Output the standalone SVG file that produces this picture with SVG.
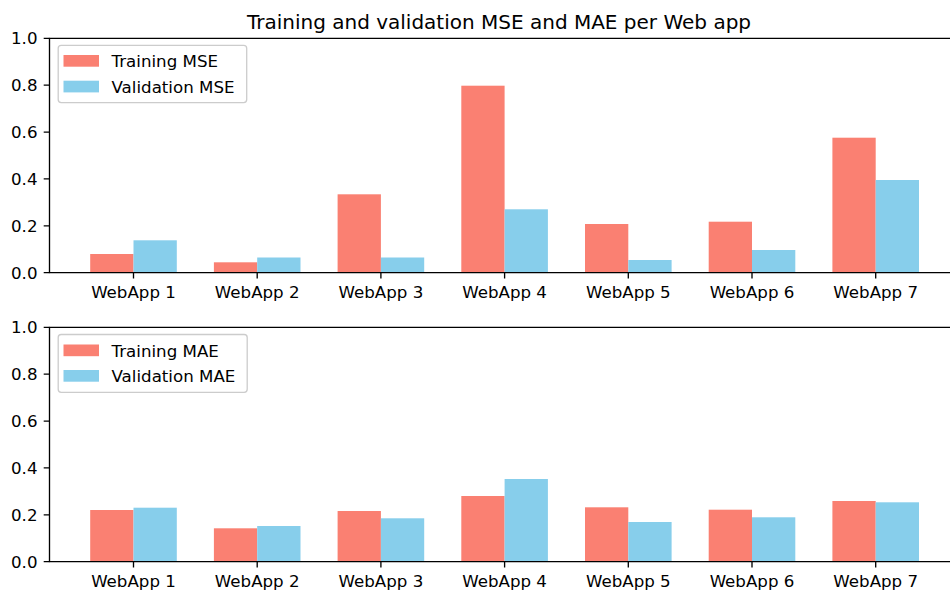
<svg xmlns="http://www.w3.org/2000/svg" width="950" height="594" viewBox="0 0 950 594">
  <style>
    text { font-family: "DejaVu Sans", "Liberation Sans", sans-serif; fill: #000; }
    .tick { font-size: 16.67px; }
    .ylab { text-anchor: end; }
    .xlab { text-anchor: middle; }
    .title { font-size: 20px; text-anchor: middle; }
    .leg { font-size: 16.67px; }
    .train { fill: #FA8072; }
    .val { fill: #87CEEB; }
    .spine { stroke: #000; stroke-width: 1.33; fill: none; stroke-linecap: square; }
    .tk { stroke: #000; stroke-width: 1.33; }
    .legbox { fill: #fff; fill-opacity: 0.8; stroke: #cccccc; stroke-width: 1.3; }
  </style>

  <rect x="0" y="0" width="950" height="594" fill="#fff"/>

  <text class="title" x="499" y="29">Training and validation MSE and MAE per Web app</text>

  <!-- Upper panel: MSE -->
  <g id="mse-panel">
    <g id="mse-bars">
      <rect class="train" x="90.2" y="254" width="43.3" height="18.7"/>
      <rect class="val" x="133.5" y="240.3" width="43.3" height="32.4"/>
      <rect class="train" x="213.9" y="262.3" width="43.3" height="10.4"/>
      <rect class="val" x="257.2" y="257.5" width="43.3" height="15.2"/>
      <rect class="train" x="337.6" y="194.3" width="43.3" height="78.4"/>
      <rect class="val" x="380.9" y="257.5" width="43.3" height="15.2"/>
      <rect class="train" x="461.3" y="85.7" width="43.3" height="187"/>
      <rect class="val" x="504.6" y="209.3" width="43.3" height="63.4"/>
      <rect class="train" x="585" y="224" width="43.3" height="48.7"/>
      <rect class="val" x="628.3" y="260" width="43.3" height="12.7"/>
      <rect class="train" x="708.7" y="221.7" width="43.3" height="51"/>
      <rect class="val" x="752" y="250" width="43.3" height="22.7"/>
      <rect class="train" x="832.4" y="137.7" width="43.3" height="135"/>
      <rect class="val" x="875.7" y="180" width="43.3" height="92.7"/>
    </g>
    <g id="mse-axes">
      <path class="spine" d="M49.5 38.3 V272.7 M49.5 38.3 H950 M49.5 272.7 H950"/>
      <path class="tk" d="M43.7 38.3 H49.5 M43.7 85.2 H49.5 M43.7 132.1 H49.5 M43.7 178.9 H49.5 M43.7 225.8 H49.5 M43.7 272.7 H49.5"/>
      <path class="tk" d="M133.5 272.7 V278.5 M257.2 272.7 V278.5 M380.9 272.7 V278.5 M504.6 272.7 V278.5 M628.3 272.7 V278.5 M752 272.7 V278.5 M875.7 272.7 V278.5"/>
      <g class="tick ylab">
        <text x="37.5" y="44.3">1.0</text>
        <text x="37.5" y="91.2">0.8</text>
        <text x="37.5" y="138.1">0.6</text>
        <text x="37.5" y="184.9">0.4</text>
        <text x="37.5" y="231.8">0.2</text>
        <text x="37.5" y="278.7">0.0</text>
      </g>
      <g class="tick xlab">
        <text x="133.5" y="298">WebApp 1</text>
        <text x="257.2" y="298">WebApp 2</text>
        <text x="380.9" y="298">WebApp 3</text>
        <text x="504.6" y="298">WebApp 4</text>
        <text x="628.3" y="298">WebApp 5</text>
        <text x="752" y="298">WebApp 6</text>
        <text x="875.7" y="298">WebApp 7</text>
      </g>
    </g>
    <g id="mse-legend">
      <rect class="legbox" x="58.2" y="45.3" width="188.5" height="57.3" rx="3"/>
      <rect class="train" x="63.5" y="55" width="35.5" height="11.7"/>
      <rect class="val" x="63.5" y="80.7" width="35.5" height="11.7"/>
      <text class="leg" x="111.5" y="67">Training MSE</text>
      <text class="leg" x="111.5" y="92.7">Validation MSE</text>
    </g>
  </g>

  <!-- Lower panel: MAE -->
  <g id="mae-panel">
    <g id="mae-bars">
      <rect class="train" x="90.2" y="510" width="43.3" height="51.7"/>
      <rect class="val" x="133.5" y="507.7" width="43.3" height="54"/>
      <rect class="train" x="213.9" y="528.3" width="43.3" height="33.4"/>
      <rect class="val" x="257.2" y="526" width="43.3" height="35.7"/>
      <rect class="train" x="337.6" y="511" width="43.3" height="50.7"/>
      <rect class="val" x="380.9" y="518.3" width="43.3" height="43.4"/>
      <rect class="train" x="461.3" y="496" width="43.3" height="65.7"/>
      <rect class="val" x="504.6" y="479" width="43.3" height="82.7"/>
      <rect class="train" x="585" y="507.3" width="43.3" height="54.4"/>
      <rect class="val" x="628.3" y="522" width="43.3" height="39.7"/>
      <rect class="train" x="708.7" y="509.7" width="43.3" height="52"/>
      <rect class="val" x="752" y="517.3" width="43.3" height="44.4"/>
      <rect class="train" x="832.4" y="501" width="43.3" height="60.7"/>
      <rect class="val" x="875.7" y="502.3" width="43.3" height="59.4"/>
    </g>
    <g id="mae-axes">
      <path class="spine" d="M49.5 327.3 V561.7 M49.5 327.3 H950 M49.5 561.7 H950"/>
      <path class="tk" d="M43.7 327.3 H49.5 M43.7 374.2 H49.5 M43.7 421.1 H49.5 M43.7 467.9 H49.5 M43.7 514.8 H49.5 M43.7 561.7 H49.5"/>
      <path class="tk" d="M133.5 561.7 V567.5 M257.2 561.7 V567.5 M380.9 561.7 V567.5 M504.6 561.7 V567.5 M628.3 561.7 V567.5 M752 561.7 V567.5 M875.7 561.7 V567.5"/>
      <g class="tick ylab">
        <text x="37.5" y="333.3">1.0</text>
        <text x="37.5" y="380.2">0.8</text>
        <text x="37.5" y="427.1">0.6</text>
        <text x="37.5" y="473.9">0.4</text>
        <text x="37.5" y="520.8">0.2</text>
        <text x="37.5" y="567.7">0.0</text>
      </g>
      <g class="tick xlab">
        <text x="133.5" y="587">WebApp 1</text>
        <text x="257.2" y="587">WebApp 2</text>
        <text x="380.9" y="587">WebApp 3</text>
        <text x="504.6" y="587">WebApp 4</text>
        <text x="628.3" y="587">WebApp 5</text>
        <text x="752" y="587">WebApp 6</text>
        <text x="875.7" y="587">WebApp 7</text>
      </g>
    </g>
    <g id="mae-legend">
      <rect class="legbox" x="58.2" y="334.5" width="189" height="57.8" rx="3"/>
      <rect class="train" x="63.5" y="344.5" width="35.5" height="11.7"/>
      <rect class="val" x="63.5" y="370" width="35.5" height="11.7"/>
      <text class="leg" x="111.5" y="356.5">Training MAE</text>
      <text class="leg" x="111.5" y="382.3">Validation MAE</text>
    </g>
  </g>
</svg>
